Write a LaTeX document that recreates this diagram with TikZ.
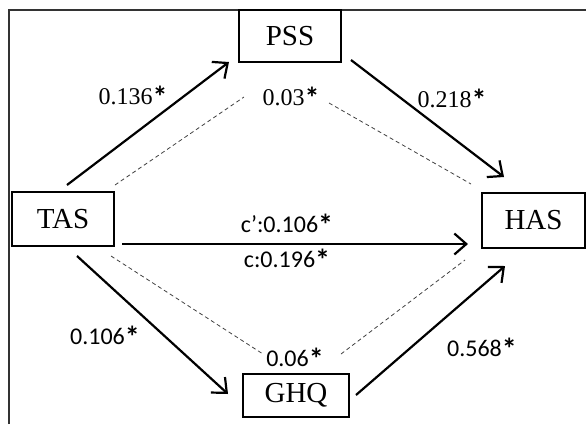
\documentclass[tikz,border=0pt]{standalone}
\usepackage{fontspec}
\setmainfont{Liberation Serif}
\newfontfamily\labsans{Carlito}
\usetikzlibrary{arrows.meta,calc}
\newcommand{\myast}{{\labsans\bfseries\raisebox{-0.14em}{\scalebox{1.25}{*}}}}
\begin{document}
\begin{tikzpicture}[x=1pt,y=-1pt,
  box/.style={draw,line width=2pt,inner sep=0pt,font=\fontsize{29}{31}\selectfont},
  arr/.style={line width=2.2pt,-{Straight Barb[length=12pt,width=21pt]}},
  dsh/.style={line width=0.8pt,dash pattern=on 4pt off 3pt,draw=black!75},
  serlab/.style={font=\fontsize{24}{26}\selectfont,inner sep=0pt},
  sanslab/.style={font=\labsans\fontsize{24}{26}\selectfont,inner sep=0pt}]
\useasboundingbox (0,0) rectangle (586,424);
\draw[line width=1.5pt,draw=black!80] (9,424) -- (9,10) -- (586,10);
\node[box,minimum width=102pt,minimum height=54pt] (TAS) at (63,219) {TAS};
\node[box,minimum width=102pt,minimum height=52pt] (PSS) at (290,36) {PSS};
\node[box,minimum width=103pt,minimum height=55pt] (HAS) at (533.5,220.5) {HAS};
\node[box,minimum width=106pt,minimum height=43pt] (GHQ) at (296,395.5) {GHQ};
% solid arrows
\draw[arr] ($(TAS.north)+(4,-6)$) -- ($(PSS.south west)+(-9,-1)$);
\draw[arr] ($(PSS.south east)+(9,-3)$) -- ($(HAS.north west)+(23,-15)$);
\draw[arr] ($(TAS.south east)+(7,-3)$) -- ($(HAS.south west)+(-13,-5)$);
\draw[arr] ($(TAS.south)+(14,9)$) -- ($(GHQ.west)+(-14,-1.5)$);
\draw[arr] ($(GHQ.east)+(6,-0.5)$) -- ($(HAS.south west)+(24,17)$);
% dashed lines
\draw[dsh] ($(TAS.north east)+(0,-6)$) -- ($(PSS.south)+(-46,34)$);
\draw[dsh] ($(PSS.south)+(39,40)$) -- ($(HAS.north west)+(-10,-8)$);
\draw[dsh] ($(TAS.south east)+(-4,9)$) -- ($(GHQ.north)+(-33,-19)$);
\draw[dsh] ($(GHQ.north)+(45,-19)$) -- ($(HAS.south west)+(-16,11)$);
% labels
\node[serlab] (l1) at (133,97) {0.136\myast};
\node[serlab] (l2) at (291,98) {0.03\myast};
\node[serlab] (l3) at (452,100) {0.218\myast};
\node[sanslab] (l4) at (287,225) {c’:0.106\myast};
\node[sanslab] (l5) at (287,260) {c:0.196\myast};
\node[sanslab] (l6) at (105,337) {0.106\myast};
\node[sanslab] (l7) at (295,359) {0.06\myast};
\node[sanslab] (l8) at (482,349) {0.568\myast};
\end{tikzpicture}
\end{document}
